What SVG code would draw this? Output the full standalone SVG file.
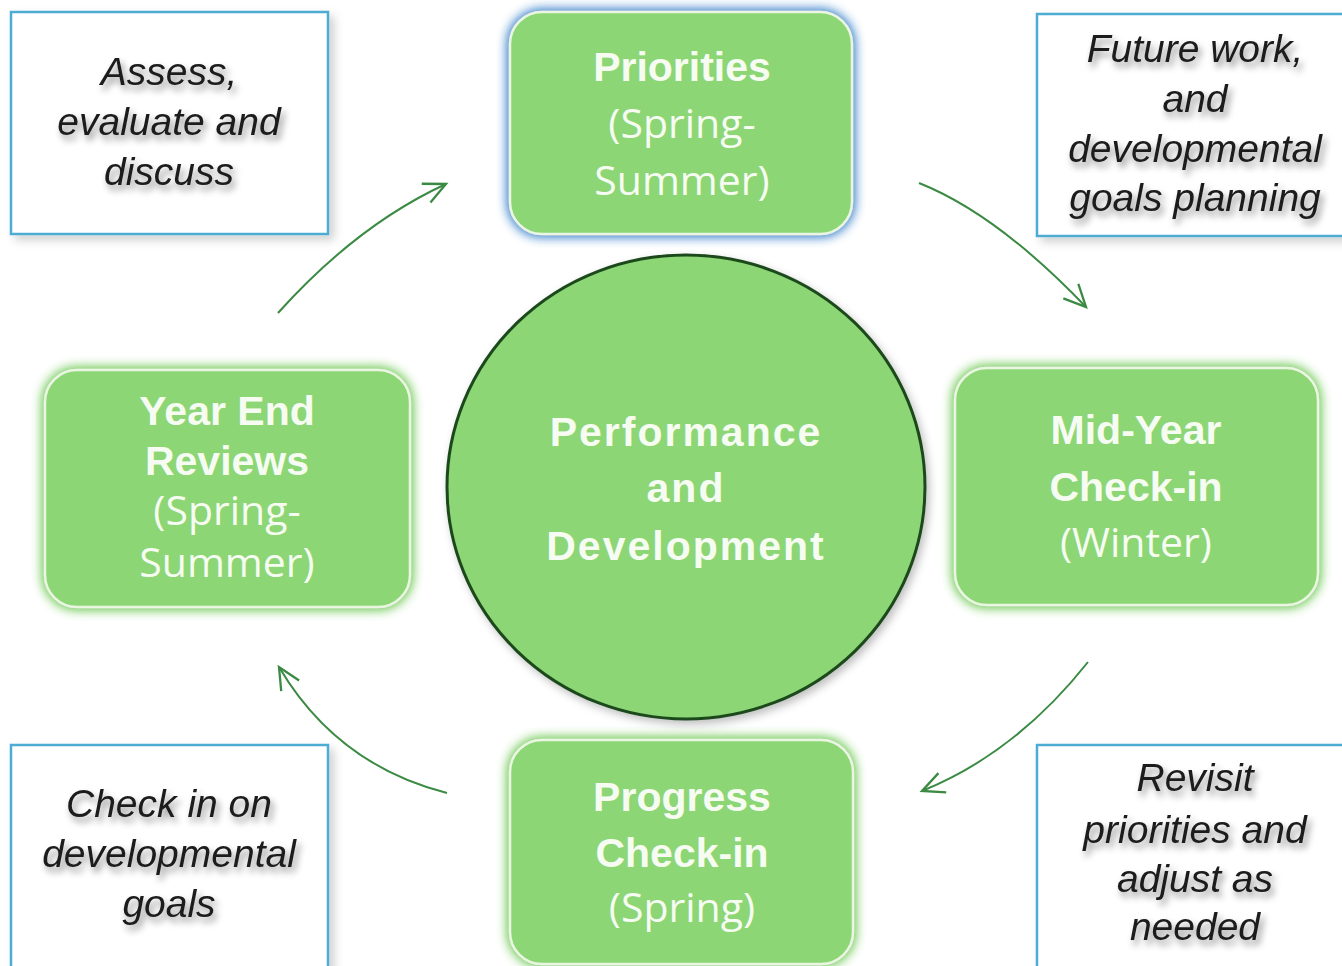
<svg xmlns="http://www.w3.org/2000/svg" width="1342" height="966" viewBox="0 0 1342 966">
<defs>
<style>
.gbox{fill:#8cd674;stroke:#eaf6e2;stroke-width:2.5}
.title{font-family:"Liberation Sans",Arial,sans-serif;font-weight:bold;font-size:41px;fill:#f6fcf2;text-anchor:middle}
.sub{font-family:"Open Sans","Liberation Sans",sans-serif;font-size:41px;fill:#f6fcf2;text-anchor:middle}
.ctr{font-family:"Liberation Sans",Arial,sans-serif;font-weight:bold;font-size:41px;letter-spacing:2px;fill:#f6fcf2;text-anchor:middle}
.note{fill:#ffffff;stroke:#4eacd2;stroke-width:2.5}
.ntext{font-family:"Liberation Sans",Arial,sans-serif;font-style:italic;font-size:39px;fill:#1a1a1a;text-anchor:middle}
.arrow{fill:none;stroke:#3b8a43;stroke-width:2;marker-end:url(#head)}
</style>
<marker id="head" markerUnits="userSpaceOnUse" markerWidth="30" markerHeight="30" viewBox="-22 -12 26 24" refX="0" refY="0" orient="auto">
<path d="M-19,-9 L0,0 L-19,9" fill="none" stroke="#3b8a43" stroke-width="2"/>
</marker>
<filter id="glowG" x="-10%" y="-12%" width="120%" height="124%">
<feGaussianBlur in="SourceAlpha" stdDeviation="6" result="b"/>
<feFlood flood-color="#7fcf68" flood-opacity="1"/>
<feComposite in2="b" operator="in" result="g"/>
<feMerge><feMergeNode in="g"/><feMergeNode in="g"/><feMergeNode in="SourceGraphic"/></feMerge>
</filter>
<filter id="glowB" x="-10%" y="-12%" width="120%" height="124%">
<feGaussianBlur in="SourceAlpha" stdDeviation="6" result="b"/>
<feFlood flood-color="#4f8fd0" flood-opacity="1"/>
<feComposite in2="b" operator="in" result="g"/>
<feMerge><feMergeNode in="g"/><feMergeNode in="g"/><feMergeNode in="SourceGraphic"/></feMerge>
</filter>
<filter id="shadowBox" x="-10%" y="-10%" width="125%" height="125%">
<feDropShadow dx="5" dy="5" stdDeviation="5" flood-color="#000" flood-opacity="0.18"/>
</filter>
<filter id="shadowText" x="-10%" y="-20%" width="125%" height="150%">
<feDropShadow dx="3" dy="5" stdDeviation="3.5" flood-color="#000" flood-opacity="0.45"/>
</filter>
<filter id="shadowCircle" x="-10%" y="-10%" width="120%" height="120%">
<feDropShadow dx="3" dy="4" stdDeviation="4" flood-color="#000" flood-opacity="0.25"/>
</filter>
</defs>
<rect width="1342" height="966" fill="#ffffff"/>

<g id="connectors">
<path class="arrow" d="M278,313 Q357,225 446,184"/>
<path class="arrow" d="M919,183 Q997,214 1086,307"/>
<path class="arrow" d="M1088,662 Q1016,753 922,791"/>
<path class="arrow" d="M447,793 Q337,765 279,667"/>
</g>

<g id="note-assess">
<rect class="note" x="11" y="12" width="317" height="222" filter="url(#shadowBox)"/>
<g filter="url(#shadowText)">
<text class="ntext" x="169" y="85">Assess,</text>
<text class="ntext" x="169" y="135">evaluate and</text>
<text class="ntext" x="169" y="185">discuss</text>
</g>
</g>

<g id="note-future">
<rect class="note" x="1037" y="14" width="312" height="222" filter="url(#shadowBox)"/>
<g filter="url(#shadowText)">
<text class="ntext" x="1195" y="62">Future work,</text>
<text class="ntext" x="1195" y="112">and</text>
<text class="ntext" x="1195" y="162">developmental</text>
<text class="ntext" x="1195" y="211">goals planning</text>
</g>
</g>

<g id="note-checkin">
<rect class="note" x="11" y="745" width="317" height="224" filter="url(#shadowBox)"/>
<g filter="url(#shadowText)">
<text class="ntext" x="169" y="817">Check in on</text>
<text class="ntext" x="169" y="867">developmental</text>
<text class="ntext" x="169" y="917">goals</text>
</g>
</g>

<g id="note-revisit">
<rect class="note" x="1037" y="745" width="312" height="224" filter="url(#shadowBox)"/>
<g filter="url(#shadowText)">
<text class="ntext" x="1195" y="791">Revisit</text>
<text class="ntext" x="1195" y="843">priorities and</text>
<text class="ntext" x="1195" y="892">adjust as</text>
<text class="ntext" x="1195" y="940">needed</text>
</g>
</g>

<g id="node-priorities">
<rect class="gbox" x="510" y="12" width="342" height="222" rx="32" filter="url(#glowB)"/>
<text class="title" x="682" y="81">Priorities</text>
<text class="sub" x="682" y="138">(Spring-</text>
<text class="sub" x="682" y="195">Summer)</text>
</g>

<g id="node-yearend">
<rect class="gbox" x="45" y="370" width="365" height="237" rx="32" filter="url(#glowG)"/>
<text class="title" x="227" y="425">Year End</text>
<text class="title" x="227" y="475">Reviews</text>
<text class="sub" x="227" y="525">(Spring-</text>
<text class="sub" x="227" y="577">Summer)</text>
</g>

<g id="node-midyear">
<rect class="gbox" x="955" y="368" width="363" height="237" rx="32" filter="url(#glowG)"/>
<text class="title" x="1136" y="444">Mid-Year</text>
<text class="title" x="1136" y="501">Check-in</text>
<text class="sub" x="1136" y="557">(Winter)</text>
</g>

<g id="node-progress">
<rect class="gbox" x="510" y="740" width="343" height="224" rx="32" filter="url(#glowG)"/>
<text class="title" x="682" y="811">Progress</text>
<text class="title" x="682" y="867">Check-in</text>
<text class="sub" x="682" y="922">(Spring)</text>
</g>

<g id="node-center">
<ellipse cx="686" cy="487" rx="239" ry="232" fill="#8cd674" stroke="#1e4a1e" stroke-width="3" filter="url(#shadowCircle)"/>
<text class="ctr" x="686" y="446">Performance</text>
<text class="ctr" x="686" y="502">and</text>
<text class="ctr" x="686" y="560">Development</text>
</g>
</svg>
